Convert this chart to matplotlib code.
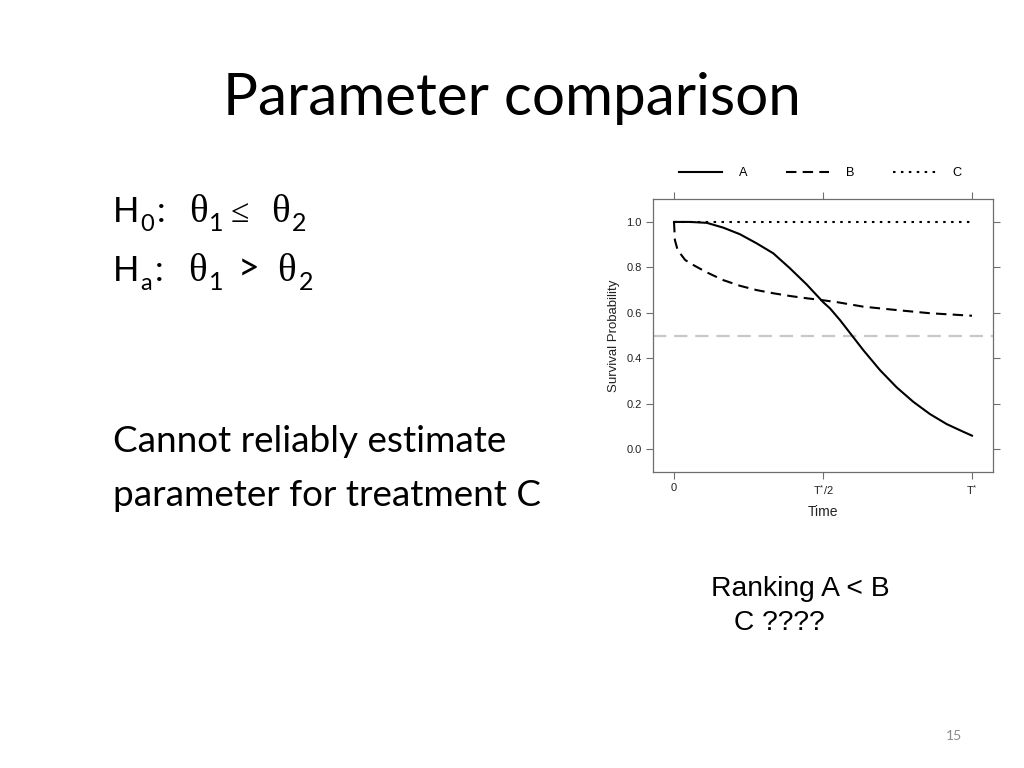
import numpy as np
import matplotlib
matplotlib.use("Agg")
import matplotlib.pyplot as plt

# Values (time as a fraction of T*)
time_a = [0.0, 0.054, 0.110, 0.165, 0.221, 0.277, 0.333, 0.389, 0.445,
          0.501, 0.523, 0.557, 0.596, 0.635, 0.691, 0.747, 0.803, 0.859,
          0.915, 0.971, 1.0]
surv_a = [1.0, 1.0, 0.996, 0.975, 0.946, 0.906, 0.862, 0.796, 0.725,
          0.646, 0.620, 0.568, 0.502, 0.436, 0.348, 0.272, 0.208, 0.154,
          0.110, 0.076, 0.059]

time_b = [0.0, 0.003, 0.012, 0.037, 0.054, 0.110, 0.165, 0.221, 0.277,
          0.333, 0.389, 0.445, 0.501, 0.551, 0.635, 0.747, 0.859, 1.0]
surv_b = [1.0, 0.92, 0.877, 0.833, 0.818, 0.778, 0.744, 0.719, 0.700,
          0.686, 0.674, 0.664, 0.655, 0.646, 0.627, 0.612, 0.598, 0.587]

time_c = [0.0, 1.0]
surv_c = [1.0, 1.0]

median_line = 0.5
y_ticks = [0.0, 0.2, 0.4, 0.6, 0.8, 1.0]
x_ticks = [0.0, 0.5, 1.0]
x_tick_labels = ["0", r"$\mathregular{T^{*}/2}$", r"$\mathregular{T^{*}}$"]

W, H = 1024, 768
fig = plt.figure(figsize=(W / 100, H / 100), dpi=100)
fig.patch.set_facecolor("white")
renderer = fig.canvas.get_renderer()


def px(x, y):
    return x / W, 1 - y / H


def right_edge(txt):
    # pixel x of the right side of a drawn text
    return txt.get_window_extent(renderer).x1


BODY = "Lato"
SERIF = "Liberation Serif"
SANS = "Liberation Sans"

# slide title
fig.text(*px(512, 115), "Parameter comparison", fontsize=42, family=BODY,
         ha="center", va="baseline")

# hypotheses: H with subscript, then the thetas
for base, sub in [(222, "0"), (281, "a")]:
    h = fig.text(*px(113, base), "H", fontsize=25, family=BODY, va="baseline")
    s = fig.text(*px(right_edge(h) + 1, base + 9), sub, fontsize=17,
                 family=BODY, va="baseline")
    fig.text(*px(right_edge(s) + 3, base), ":", fontsize=25, family=BODY,
             va="baseline")

fig.text(*px(189, 222), "\u03b8", fontsize=28, family=SERIF, va="baseline")
fig.text(*px(209, 231), "1", fontsize=18, family=BODY, va="baseline")
fig.text(*px(231, 222), "\u2264", fontsize=24, family=SERIF, va="baseline")
fig.text(*px(271, 222), "\u03b8", fontsize=28, family=SERIF, va="baseline")
fig.text(*px(292, 231), "2", fontsize=18, family=BODY, va="baseline")

fig.text(*px(188, 281), "\u03b8", fontsize=28, family=SERIF, va="baseline")
fig.text(*px(209, 290), "1", fontsize=18, family=BODY, va="baseline")
fig.text(*px(238, 281), ">", fontsize=27, family=BODY, va="baseline")
fig.text(*px(277, 281), "\u03b8", fontsize=28, family=SERIF, va="baseline")
fig.text(*px(299, 290), "2", fontsize=18, family=BODY, va="baseline")

fig.text(*px(113, 452), "Cannot reliably estimate", fontsize=26.6,
         family=BODY, va="baseline")
fig.text(*px(113, 506), "parameter for treatment C", fontsize=26.6,
         family=BODY, va="baseline")

fig.text(*px(711, 596), "Ranking A < B", fontsize=20.3, family=SANS,
         va="baseline")
fig.text(*px(734, 630), "C ????", fontsize=20.3, family=SANS, va="baseline")

fig.text(*px(954, 740), "15", fontsize=10, family=BODY, color="#8a8a8a",
         ha="center", va="baseline")

# survival chart
frame = "#6e6e6e"
ax = fig.add_axes([653 / W, 1 - 472 / H, 340 / W, 273 / H])
ax.axhline(median_line, color="#c8c8c8", lw=1.6, dashes=(6, 3.5))
la, = ax.plot(time_a, surv_a, color="black", lw=1.5, label="A")
lb, = ax.plot(time_b, surv_b, color="black", lw=1.5, dashes=(5, 3), label="B")
lc, = ax.plot(time_c, surv_c, color="black", lw=1.5, dashes=(1.2, 2.6),
              label="C")

ax.set_xlim(-0.0705, 1.0705)
ax.set_ylim(-0.101, 1.101)
ax.set_xticks(x_ticks)
ax.set_xticklabels(x_tick_labels)
ax.set_yticks(y_ticks)
ax.set_yticklabels([f"{v:.1f}" for v in y_ticks])
for s in ax.spines.values():
    s.set_color(frame)
    s.set_linewidth(0.9)
ax.tick_params(direction="out", length=5, width=0.8, color=frame,
               labelsize=8, labelcolor="#222222", pad=3,
               top=True, right=True, labeltop=False, labelright=False)
for t in ax.get_xticklabels() + ax.get_yticklabels():
    t.set_family(SANS)
ax.set_xlabel("Time", fontsize=10, family=SANS, color="#222222", labelpad=6)
ax.set_ylabel("Survival Probability", fontsize=9.5, family=SANS,
              color="#222222", labelpad=5)

ax.legend(handles=[la, lb, lc], loc="center left",
          bbox_to_anchor=px(679, 173), bbox_transform=fig.transFigure,
          ncol=3, frameon=False, borderpad=0, borderaxespad=0,
          handlelength=3.4, handletextpad=1.3, columnspacing=3.0,
          prop={"family": SANS, "size": 9.2})

fig.savefig("out.png", dpi=100, facecolor="white")
